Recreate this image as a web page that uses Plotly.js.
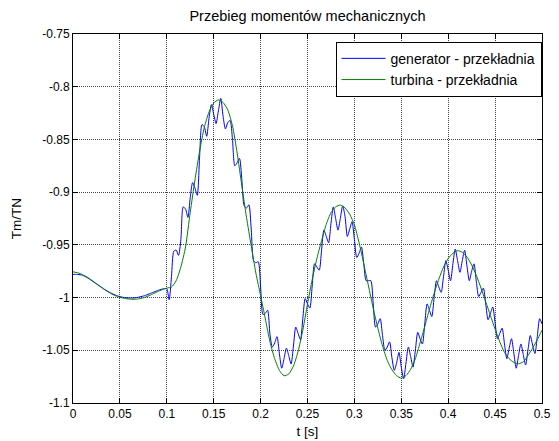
<!DOCTYPE html>
<html>
<head>
<meta charset="utf-8">
<script src="https://cdn.plot.ly/plotly-3.0.1.min.js"></script>
<style>
  html, body { margin: 0; padding: 0; background: #fff; }
  #chart { width: 559px; height: 441px; }
</style>
</head>
<body>
<div id="chart"></div>
<script>
// Mechanical torque (per-unit) over time, sampled from the simulation run.
const dtGreen = 0.005;   // turbine torque sample step [s]
const dtBlue = 0.0025;   // generator torque sample step [s]

// turbina - przekładnia (0 ... 0.5 s, step 0.005 s)
const turbinaTm = [
  -0.9756, -0.9765, -0.9782, -0.9806, -0.9836, -0.9868, -0.9900, -0.9932, -0.9960, -0.9982,
  -0.9998, -1.0008, -1.0014, -1.0016, -1.0012, -1.0002, -0.9986, -0.9966, -0.9945, -0.9925,
  -0.9910, -0.9900, -0.9840, -0.9710, -0.9520, -0.9190, -0.8886, -0.8610, -0.8385, -0.8240,
  -0.8155, -0.8125, -0.8150, -0.8220, -0.8370, -0.8630, -0.8940, -0.9240, -0.9510, -0.9770,
  -0.9980, -1.0200, -1.0420, -1.0580, -1.0690, -1.0742, -1.0725, -1.0650, -1.0510, -1.0310,
  -1.0060, -0.9830, -0.9630, -0.9460, -0.9305, -0.9195, -0.9140, -0.9123, -0.9150, -0.9210,
  -0.9310, -0.9480, -0.9680, -0.9890, -1.0100, -1.0290, -1.0460, -1.0595, -1.0685, -1.0740,
  -1.0765, -1.0740, -1.0680, -1.0580, -1.0430, -1.0275, -1.0110, -0.9960, -0.9825, -0.9710,
  -0.9630, -0.9580, -0.9555, -0.9570, -0.9615, -0.9690, -0.9790, -0.9910, -1.0040, -1.0170,
  -1.0300, -1.0420, -1.0520, -1.0580, -1.0615, -1.0628, -1.0610, -1.0550, -1.0480, -1.0400,
  -1.0310
];

// generator - przekładnia (0 ... 0.5 s, step 0.0025 s), one row per 10 ms
const generatorTm = [
  -0.9780, -0.9780, -0.9781, -0.9783,
  -0.9788, -0.9798, -0.9810, -0.9825,
  -0.9840, -0.9855, -0.9871, -0.9886,
  -0.9901, -0.9916, -0.9930, -0.9943,
  -0.9955, -0.9966, -0.9976, -0.9984,
  -0.9991, -0.9996, -1.0000, -1.0003,
  -1.0004, -1.0004, -1.0003, -1.0000,
  -0.9996, -0.9991, -0.9985, -0.9978,
  -0.9970, -0.9961, -0.9952, -0.9943,
  -0.9934, -0.9926, -0.9920, -0.9916,
  -0.9915, -1.0020, -0.9800, -0.9560,   // 0.10
  -0.9550, -0.9600, -0.9450, -0.9140,
  -0.9160, -0.9240, -0.9050, -0.8910,
  -0.8960, -0.9030, -0.8660, -0.8360,
  -0.8380, -0.8470, -0.8300, -0.8170,
  -0.8260, -0.8350, -0.8230, -0.8110,
  -0.8280, -0.8400, -0.8340, -0.8320,
  -0.8500, -0.8750, -0.8720, -0.8680,
  -0.8880, -0.9130, -0.9150, -0.9120,
  -0.9350, -0.9650, -0.9670, -0.9660,
  -0.9900, -1.0160, -1.0150, -1.0120,   // 0.20
  -1.0350, -1.0470, -1.0430, -1.0370,
  -1.0530, -1.0670, -1.0580, -1.0480,
  -1.0550, -1.0630, -1.0460, -1.0280,
  -1.0340, -1.0400, -1.0200, -1.0010,
  -1.0060, -1.0100, -0.9890, -0.9680,
  -0.9710, -0.9740, -0.9550, -0.9360,
  -0.9420, -0.9480, -0.9300, -0.9140,
  -0.9250, -0.9360, -0.9250, -0.9130,
  -0.9230, -0.9420, -0.9350, -0.9280,
  -0.9450, -0.9620, -0.9580, -0.9520,   // 0.30
  -0.9680, -0.9840, -0.9840, -0.9840,
  -1.0050, -1.0280, -1.0250, -1.0200,
  -1.0360, -1.0500, -1.0470, -1.0420,
  -1.0570, -1.0690, -1.0620, -1.0520,
  -1.0660, -1.0770, -1.0620, -1.0470,
  -1.0560, -1.0660, -1.0500, -1.0330,
  -1.0390, -1.0440, -1.0250, -1.0060,
  -1.0120, -1.0180, -1.0000, -0.9840,
  -0.9900, -0.9950, -0.9800, -0.9650,
  -0.9740, -0.9840, -0.9680, -0.9540,   // 0.40
  -0.9650, -0.9760, -0.9650, -0.9550,
  -0.9700, -0.9840, -0.9750, -0.9680,
  -0.9850, -0.9990, -0.9950, -0.9910,
  -1.0060, -1.0210, -1.0150, -1.0090,
  -1.0240, -1.0390, -1.0340, -1.0290,
  -1.0440, -1.0580, -1.0480, -1.0390,
  -1.0530, -1.0670, -1.0550, -1.0440,
  -1.0540, -1.0640, -1.0500, -1.0360,
  -1.0450, -1.0530, -1.0370, -1.0200,
  -1.0250                                // 0.50
];

const seriesNames = ['generator - przekładnia', 'turbina - przekładnia'];
const xTickVals = [0, 0.05, 0.1, 0.15, 0.2, 0.25, 0.3, 0.35, 0.4, 0.45, 0.5];
const xTickText = ['0', '0.05', '0.1', '0.15', '0.2', '0.25', '0.3', '0.35', '0.4', '0.45', '0.5'];
const yTickVals = [-1.1, -1.05, -1, -0.95, -0.9, -0.85, -0.8, -0.75];
const yTickText = ['-1.1', '-1.05', '-1', '-0.95', '-0.9', '-0.85', '-0.8', '-0.75'];

const timeAxis = (n, dt) => Array.from({length: n}, (_, i) => +(i * dt).toFixed(5));

const FONT = 'Liberation Sans, Arial, Helvetica, sans-serif';

const traces = [
  {
    x: timeAxis(generatorTm.length, dtBlue),
    y: generatorTm,
    name: seriesNames[0],
    mode: 'lines',
    line: {color: 'rgb(0,0,255)', width: 1, shape: 'spline', smoothing: 0.7}
  },
  {
    x: timeAxis(turbinaTm.length, dtGreen),
    y: turbinaTm,
    name: seriesNames[1],
    mode: 'lines',
    line: {color: 'rgb(0,128,0)', width: 1, shape: 'spline', smoothing: 0.6}
  }
];

const axisCommon = {
  showline: true,
  linecolor: '#000',
  linewidth: 1,
  mirror: 'ticks',
  ticks: 'inside',
  ticklen: 5,
  tickcolor: '#000',
  tickwidth: 1,
  showgrid: true,
  gridcolor: '#444',
  gridwidth: 1,
  griddash: '1px,1px',
  zeroline: false,
  tickmode: 'array',
  tickfont: {family: FONT, size: 12, color: '#000'}
};

const layout = {
  width: 559,
  height: 441,
  paper_bgcolor: '#fff',
  plot_bgcolor: '#fff',
  margin: {l: 73, r: 17, t: 34, b: 38},
  showlegend: true,
  title: {
    text: 'Przebieg momentów mechanicznych',
    font: {family: FONT, size: 14.5, color: '#000'},
    x: 0.5, xref: 'paper', xanchor: 'center',
    y: 1 - 16 / 441, yref: 'container', yanchor: 'middle'
  },
  xaxis: Object.assign({}, axisCommon, {
    range: [0, 0.5],
    tickvals: xTickVals,
    ticktext: xTickText,
    title: {text: 't [s]', font: {family: FONT, size: 13.5, color: '#000'}, standoff: 6}
  }),
  yaxis: Object.assign({}, axisCommon, {
    range: [-1.1, -0.75],
    tickvals: yTickVals,
    ticktext: yTickText,
    title: {text: 'Tm/TN', font: {family: FONT, size: 13.5, color: '#000'}, standoff: 17}
  }),
  legend: {
    x: 0.999, y: 0.979, xanchor: 'right', yanchor: 'top',
    bgcolor: '#fff', bordercolor: '#000', borderwidth: 1,
    font: {family: FONT, size: 14, color: '#000'},
    itemwidth: 44,
    tracegroupgap: 0
  }
};

Plotly.newPlot('chart', traces, layout, {displayModeBar: false, staticPlot: true});
</script>
</body>
</html>
